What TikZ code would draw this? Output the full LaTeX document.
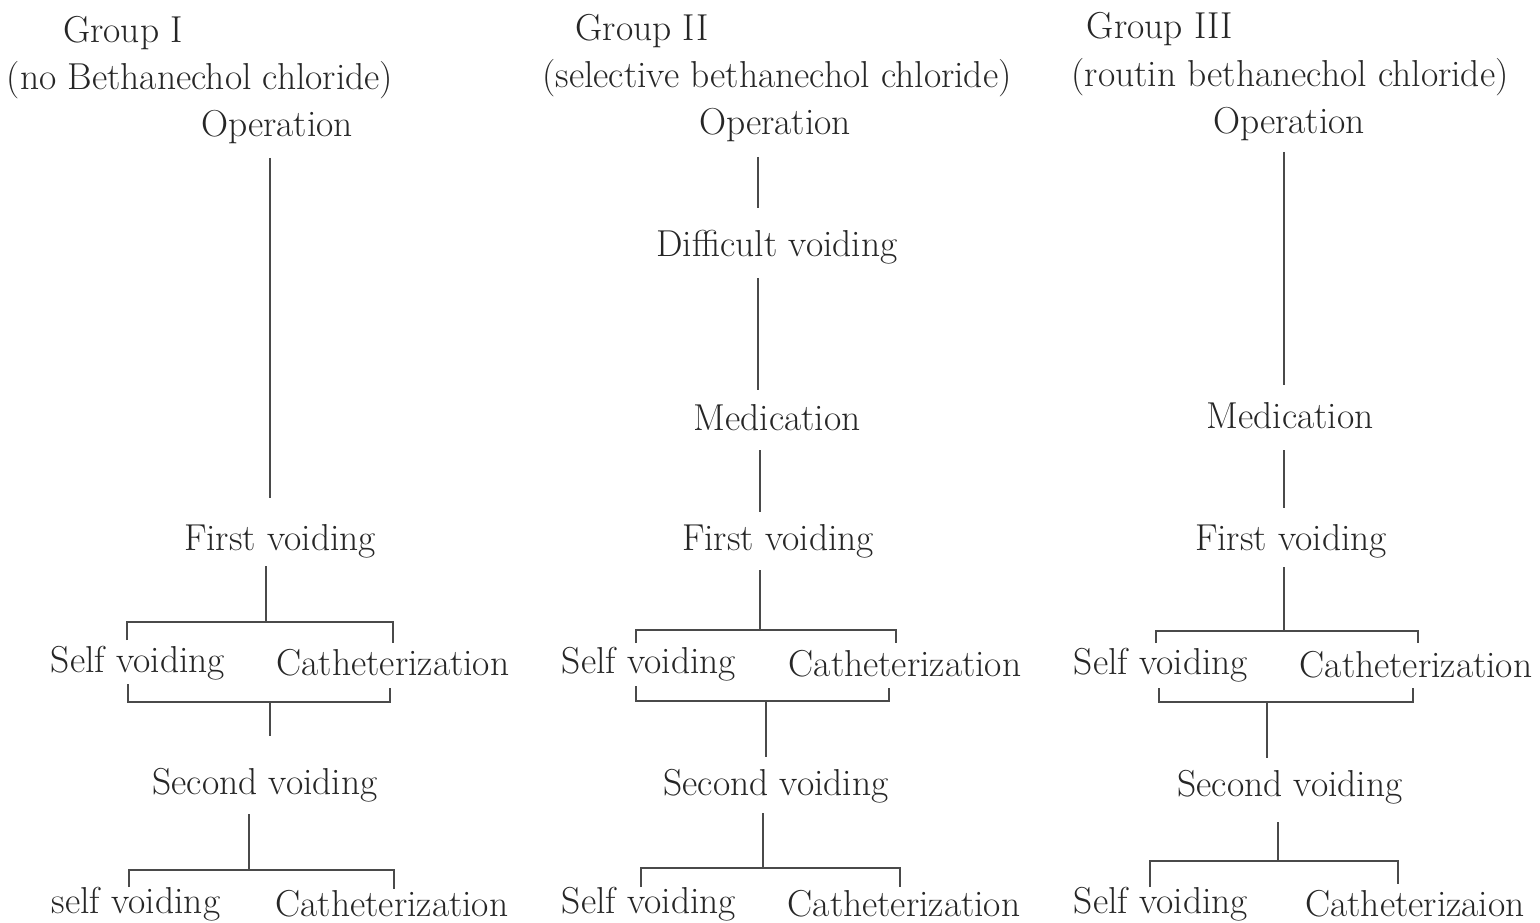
\documentclass[tikz,border=0pt]{standalone}
\definecolor{txt}{HTML}{262626}
\definecolor{lin}{HTML}{4A4A4A}
\begin{document}
\begin{tikzpicture}[x=1pt,y=-1pt,
  lbl/.style={inner sep=0pt, text=txt, font=\fontsize{37.5}{44}\selectfont},
  ln/.style={draw=lin, line width=1.6pt}]
\useasboundingbox[fill=white] (0,0) rectangle (1540,923);
% ---------------- Group I ----------------
\node[lbl] (g1)  at (123,33)  {Group I};
\node[lbl] (g1s) at (200,80)  {(no Bethanechol chloride)};
\node[lbl] (op1) at (277,127) {Operation};
\node[lbl] (fv1) at (280,541) {First voiding};
\node[lbl] (sv1) at (138,663) {Self voiding};
\node[lbl] (ca1) at (393,663) {Catheterization};
\node[lbl] (sd1) at (265,785) {Second voiding};
\node[lbl] (ss1) at (136,904) {self voiding};
\node[lbl] (cc1) at (392,904) {Catheterization};
\coordinate (a1) at (270,158); \coordinate (b1) at (270,498);
\draw[ln] (a1) -- (b1);
\coordinate (c1) at (266,566); \coordinate (d1) at (266,622);
\draw[ln] (c1) -- (d1);
\coordinate (tl1) at (127,640); \coordinate (tr1) at (393,643);
\draw[ln] (tl1) -- (127,622) -- (393,622) -- (tr1);
\coordinate (bl1) at (128,684); \coordinate (br1) at (390,688);
\draw[ln] (bl1) -- (128,702) -- (390,702) -- (br1);
\coordinate (e1) at (270,702); \coordinate (f1) at (270,736);
\draw[ln] (e1) -- (f1);
\coordinate (h1) at (249,814); \coordinate (i1) at (249,870);
\draw[ln] (h1) -- (i1);
\coordinate (ll1) at (129,887); \coordinate (lr1) at (394,889);
\draw[ln] (ll1) -- (129,870) -- (394,870) -- (lr1);
% ---------------- Group II ----------------
\node[lbl] (g2)  at (642,31)  {Group II};
\node[lbl] (g2s) at (777,78)  {(selective bethanechol chloride)};
\node[lbl] (op2) at (775,125) {Operation};
\node[lbl] (dv2) at (777,247) {Difficult voiding};
\node[lbl] (me2) at (777,418) {Medication};
\node[lbl] (fv2) at (778,541) {First voiding};
\node[lbl] (sv2) at (649,664) {Self voiding};
\node[lbl] (ca2) at (905,664) {Catheterization};
\node[lbl] (sd2) at (776,786) {Second voiding};
\node[lbl] (ss2) at (649,904) {Self voiding};
\node[lbl] (cc2) at (904,904) {Catheterization};
\coordinate (a2) at (758,157); \coordinate (b2) at (758,208);
\draw[ln] (a2) -- (b2);
\coordinate (a2b) at (758,278); \coordinate (b2b) at (758,390);
\draw[ln] (a2b) -- (b2b);
\coordinate (a2c) at (760,450); \coordinate (b2c) at (760,512);
\draw[ln] (a2c) -- (b2c);
\coordinate (c2) at (760,570); \coordinate (d2) at (760,630);
\draw[ln] (c2) -- (d2);
\coordinate (tl2) at (636,643); \coordinate (tr2) at (896,643);
\draw[ln] (tl2) -- (636,630) -- (896,630) -- (tr2);
\coordinate (bl2) at (636,686); \coordinate (br2) at (889,688);
\draw[ln] (bl2) -- (636,701) -- (889,701) -- (br2);
\coordinate (e2) at (766,701); \coordinate (f2) at (766,757);
\draw[ln] (e2) -- (f2);
\coordinate (h2) at (763,813); \coordinate (i2) at (763,868);
\draw[ln] (h2) -- (i2);
\coordinate (ll2) at (641,887); \coordinate (lr2) at (900,887);
\draw[ln] (ll2) -- (641,868) -- (900,868) -- (lr2);
% ---------------- Group III ----------------
\node[lbl] (g3)  at (1160,29)  {Group III};
\node[lbl] (g3s) at (1290,77)  {(routin bethanechol chloride)};
\node[lbl] (op3) at (1289,124) {Operation};
\node[lbl] (me3) at (1290,416) {Medication};
\node[lbl] (fv3) at (1291,541) {First voiding};
\node[lbl] (sv3) at (1161,665) {Self voiding};
\node[lbl] (ca3) at (1416,665) {Catheterization};
\node[lbl] (sd3) at (1290,787) {Second voiding};
\node[lbl] (ss3) at (1161,904) {Self voiding};
\node[lbl] (cc3) at (1415,904) {Catheterizaion};
\coordinate (a3) at (1284,152); \coordinate (b3) at (1284,385);
\draw[ln] (a3) -- (b3);
\coordinate (a3c) at (1284,450); \coordinate (b3c) at (1284,508);
\draw[ln] (a3c) -- (b3c);
\coordinate (c3) at (1284,567); \coordinate (d3) at (1284,631);
\draw[ln] (c3) -- (d3);
\coordinate (tl3) at (1156,643); \coordinate (tr3) at (1418,643);
\draw[ln] (tl3) -- (1156,631) -- (1418,631) -- (tr3);
\coordinate (bl3) at (1159,688); \coordinate (br3) at (1413,688);
\draw[ln] (bl3) -- (1159,702) -- (1413,702) -- (br3);
\coordinate (e3) at (1267,702); \coordinate (f3) at (1267,758);
\draw[ln] (e3) -- (f3);
\coordinate (h3) at (1278,822); \coordinate (i3) at (1278,861);
\draw[ln] (h3) -- (i3);
\coordinate (ll3) at (1150,887); \coordinate (lr3) at (1398,884);
\draw[ln] (ll3) -- (1150,861) -- (1398,861) -- (lr3);
\end{tikzpicture}
\end{document}
